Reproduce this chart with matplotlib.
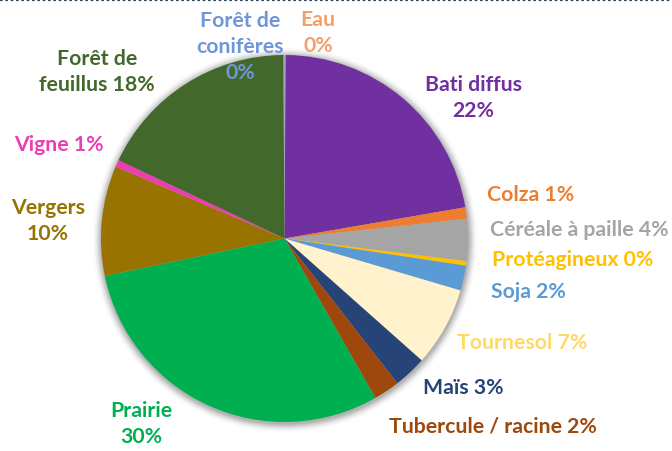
import matplotlib
matplotlib.use("Agg")
import matplotlib.pyplot as plt
from matplotlib.patches import Circle
from matplotlib.lines import Line2D

# Land-use shares, clockwise from 12 o'clock
categories = ["Eau", "Bati diffus", "Colza", "Céréale à paille", "Protéagineux",
              "Soja", "Tournesol", "Maïs", "Tubercule / racine", "Prairie",
              "Vergers", "Vigne", "Forêt de feuillus", "Forêt de conifères"]
shares = [0.1, 22.2, 1.0, 3.7, 0.4, 2.2, 7.0, 2.9, 2.3, 30.0, 9.7, 0.6, 17.9, 0.1]

slice_colors = ["#F4B183", "#7030A0", "#ED7D31", "#A5A5A5", "#FFC000", "#5B9BD5",
                "#FFF2CC", "#264478", "#9E480E", "#00B050", "#997300", "#F03CB4",
                "#43682B", "#6F96D8"]
label_colors = ["#F4A06A", "#7030A0", "#ED7D31", "#A5A5A5", "#FFC000", "#5B9BD5",
                "#FFD966", "#264478", "#9E480E", "#00B050", "#997300", "#EC3DB5",
                "#43682B", "#6F96D8"]

# label layout: (x, y) in pixels from top-left, and how the name is split
label_pos = {
    "Eau": (318, 33, "{name}\n{pct}"),
    "Bati diffus": (473, 98, "{name}\n{pct}"),
    "Colza": (531, 195, "{name} {pct}"),
    "Céréale à paille": (579, 230, "{name} {pct}"),
    "Protéagineux": (573, 260, "{name} {pct}"),
    "Soja": (528, 292, "{name} {pct}"),
    "Tournesol": (522, 343, "{name} {pct}"),
    "Maïs": (463, 388, "{name} {pct}"),
    "Tubercule / racine": (493, 427, "{name} {pct}"),
    "Prairie": (141, 424, "{name}\n{pct}"),
    "Vergers": (48, 221, "{name}\n{pct}"),
    "Vigne": (59, 145, "{name} {pct}"),
    "Forêt de feuillus": (97, 72, "Forêt de\nfeuillus {pct}"),
    "Forêt de conifères": (240, 47, "Forêt de\nconifères\n{pct}"),
}

W, H = 672, 452
fig = plt.figure(figsize=(W / 100, H / 100), dpi=100)
ax = fig.add_axes([0, 0, 1, 1])

cx, cy, r = 284.5, H - 239.5, 183.5

# soft shadow around the pie
for k in range(10, 0, -1):
    ax.add_patch(Circle((cx + 0.5, cy - 1.5), r + k * 0.9, color="#000000",
                        alpha=0.012 * (11 - k) / 2, lw=0, zorder=0))

ax.pie(shares, colors=slice_colors, startangle=90, counterclock=False,
       center=(cx, cy), radius=r, wedgeprops=dict(linewidth=0))

total = sum(shares)
for name, v, col in zip(categories, shares, label_colors):
    x, y, fmt = label_pos[name]
    pct = f"{round(v / total * 100):d}%"
    ax.text(x, H - y, fmt.format(name=name, pct=pct), ha="center", va="center",
            color=col, fontsize=15.3, fontweight="bold", family="Lato",
            linespacing=1.38)

ax.set_xlim(0, W)
ax.set_ylim(0, H)
ax.set_aspect("equal")
ax.axis("off")

# dotted frame edge along the top
fig.add_artist(Line2D([0, 1], [1 - 1.2 / H, 1 - 1.2 / H], transform=fig.transFigure,
                      color="#2E4A5A", lw=1.6, linestyle=(0, (1.2, 1.2))))

fig.savefig("out.png", dpi=100)
